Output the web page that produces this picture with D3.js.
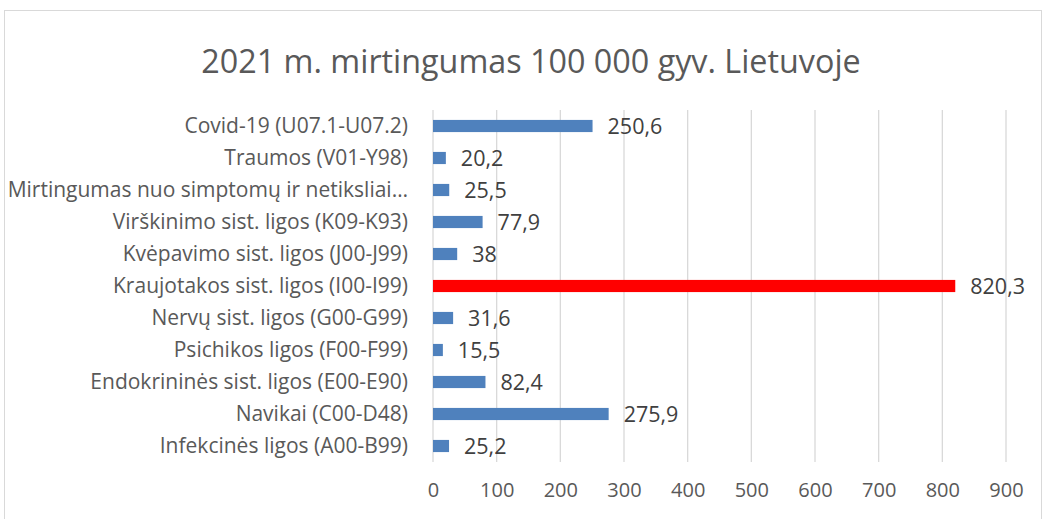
<!DOCTYPE html>
<html>
<head>
<meta charset="utf-8">
<script src="https://cdn.jsdelivr.net/npm/d3@7"></script>
<style>
  body { margin: 0; background: #fff; }
  text { font-family: "Open Sans", "Noto Sans", sans-serif; }
</style>
</head>
<body>
<div id="chart"></div>
<script>
// Data, top to bottom as drawn
const categories = [
    "Covid-19 (U07.1-U07.2)",
    "Traumos (V01-Y98)",
    "Mirtingumas nuo simptomų ir netiksliai…",
    "Virškinimo sist. ligos (K09-K93)",
    "Kvėpavimo sist. ligos (J00-J99)",
    "Kraujotakos sist. ligos (I00-I99)",
    "Nervų sist. ligos (G00-G99)",
    "Psichikos ligos (F00-F99)",
    "Endokrininės sist. ligos (E00-E90)",
    "Navikai (C00-D48)",
    "Infekcinės ligos (A00-B99)"
];
const values = [250.6, 20.2, 25.5, 77.9, 38, 820.3, 31.6, 15.5, 82.4, 275.9, 25.2];
const highlighted = "Kraujotakos sist. ligos (I00-I99)";
const xTicks = [0, 100, 200, 300, 400, 500, 600, 700, 800, 900];
const title = "2021 m. mirtingumas 100 000 gyv. Lietuvoje";

const W = 1043, H = 519;
const margin = { top: 110, right: 37, bottom: 57, left: 433 };
const width = W - margin.left - margin.right;
const height = H - margin.top - margin.bottom;

const svg = d3.select("#chart").append("svg").attr("width", W).attr("height", H);

// chart frame
svg.append("rect").attr("x", 4.5).attr("y", 10.5).attr("width", W - 6).attr("height", H)
    .attr("fill", "#fff").attr("stroke", "#d9d9d9");

svg.append("text").attr("x", 531).attr("y", 73).attr("text-anchor", "middle")
    .attr("fill", "#595959").style("font-size", "32.3px").text(title);

const g = svg.append("g").attr("transform", `translate(${margin.left},${margin.top})`);

const x = d3.scaleLinear().domain([0, 900]).range([0, width]);
const y = d3.scaleBand().domain(categories).range([0, height]).paddingInner(0.62).paddingOuter(0.31);

// gridlines
g.selectAll(".grid").data(xTicks).enter().append("line")
    .attr("x1", d => x(d)).attr("x2", d => x(d)).attr("y1", 0).attr("y2", height)
    .attr("stroke", "#d9d9d9").attr("stroke-width", 1.3);

// x axis labels
const xAxis = g.append("g").attr("transform", `translate(0,${height})`)
    .call(d3.axisBottom(x).tickValues(xTicks).tickSize(0).tickPadding(21));
xAxis.select(".domain").remove();
xAxis.selectAll("text").attr("fill", "#595959").style("font-size", "20px");

// y axis labels
const yAxis = g.append("g").call(d3.axisLeft(y).tickSize(0).tickPadding(25));
yAxis.select(".domain").remove();
yAxis.selectAll("text").attr("fill", "#595959").style("font-size", "21px");

// bars
g.selectAll(".bar").data(categories).enter().append("rect")
    .attr("x", 0).attr("y", d => y(d))
    .attr("width", (d, i) => x(values[i])).attr("height", y.bandwidth())
    .attr("fill", d => d === highlighted ? "#ff0000" : "#4f81bd");

// value labels
g.selectAll(".val").data(categories).enter().append("text")
    .attr("x", (d, i) => x(values[i]) + 15).attr("y", d => y(d) + y.bandwidth() / 2)
    .attr("dy", "0.36em").attr("fill", "#404040").style("font-size", "21.5px")
    .text((d, i) => String(values[i]).replace(".", ","));
</script>
</body>
</html>
